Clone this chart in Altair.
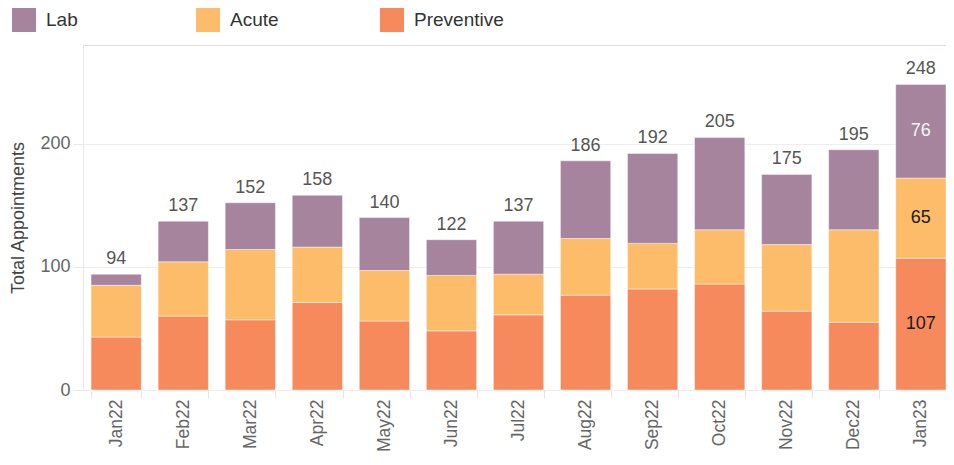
import altair as alt
import pandas as pd

months = ["Jan22", "Feb22", "Mar22", "Apr22", "May22", "Jun22", "Jul22",
          "Aug22", "Sep22", "Oct22", "Nov22", "Dec22", "Jan23"]
preventive = [43, 60, 57, 71, 56, 48, 61, 77, 82, 86, 64, 55, 107]
acute = [42, 44, 57, 45, 41, 45, 33, 46, 37, 44, 54, 75, 65]
lab = [9, 33, 38, 42, 43, 29, 43, 63, 73, 75, 57, 65, 76]

categories = ["Lab", "Acute", "Preventive"]
colors = ["#a6849d", "#fcbc69", "#f78a5d"]
stack_rank = {"Preventive": 0, "Acute": 1, "Lab": 2}

rows = []
for cat, vals in (("Preventive", preventive), ("Acute", acute), ("Lab", lab)):
    for m, v in zip(months, vals):
        rows.append({"month": m, "category": cat, "value": v, "ord": stack_rank[cat]})
df = pd.DataFrame(rows)

FONT = "Liberation Sans"

x_scale = alt.Scale(domain=months, paddingInner=0.25, paddingOuter=0.06, align=1)

x_enc = alt.X(
    "month:N",
    title=None,
    scale=x_scale,
    axis=alt.Axis(
        labelAngle=-90,
        labelFontSize=17.5,
        labelColor="#666666",
        labelFont=FONT,
        labelPadding=1,
        tickBand="extent",
        tickSize=8,
        tickColor="#e4e4e4",
        domain=False,
        grid=False,
    ),
)

base = alt.Chart(df)

bars = base.mark_bar(stroke="#ffffff", strokeWidth=1, strokeOpacity=0.45).encode(
    x=x_enc,
    y=alt.Y(
        "value:Q",
        stack="zero",
        title="Total Appointments",
        scale=alt.Scale(domain=[0, 280], nice=False),
        axis=alt.Axis(
            values=[0, 100, 200],
            labelFontSize=18,
            labelColor="#666666",
            labelFont=FONT,
            labelPadding=3,
            tickSize=10,
            tickColor="#e8e8e8",
            domainColor="#e8e8e8",
            gridColor="#ededed",
            titleFontSize=18,
            titleFont=FONT,
            titleFontWeight="normal",
            titleColor="#444444",
            titlePadding=12,
        ),
    ),
    color=alt.Color(
        "category:N",
        scale=alt.Scale(domain=categories, range=colors),
        legend=alt.Legend(
            title=None,
            orient="none",
            legendX=-71,
            legendY=-37,
            direction="horizontal",
            columns=3,
            gridAlign="all",
            columnPadding=60,
            symbolType="square",
            symbolSize=576,
            symbolStrokeWidth=0,
            symbolOpacity=1,
            labelFontSize=19,
            labelFont=FONT,
            labelColor="#333333",
            labelOffset=10,
            padding=0,
        ),
    ),
    order=alt.Order("ord:Q", sort="ascending"),
)

totals = base.transform_aggregate(
    total="sum(value)", groupby=["month"]
).mark_text(baseline="bottom", dy=-6, fontSize=18, font=FONT, color="#555555").encode(
    x=alt.X("month:N"),
    y=alt.Y("total:Q"),
    text=alt.Text("total:Q"),
)

seg_labels = base.transform_filter(
    alt.datum.month == "Jan23"
).transform_stack(
    stack="value", groupby=["month"], as_=["y0", "y1"], sort=[alt.SortField("ord", order="ascending")]
).transform_calculate(
    mid="(datum.y0 + datum.y1) / 2"
).mark_text(baseline="middle", fontSize=18, font=FONT).encode(
    x=alt.X("month:N"),
    y=alt.Y("mid:Q"),
    text=alt.Text("value:Q"),
    color=alt.condition(alt.datum.category == "Lab", alt.value("#f4f4f4"), alt.value("#1a1a1a")),
)

chart = alt.layer(bars, totals, seg_labels).properties(
    width=863,
    height=345,
    autosize=alt.AutoSizeParams(type="none"),
    padding={"left": 75, "top": 37, "right": 0, "bottom": 62},
).configure_view(stroke=None).configure(font=FONT)

chart.save("out.html", embed_options={"renderer": "svg", "actions": False})
